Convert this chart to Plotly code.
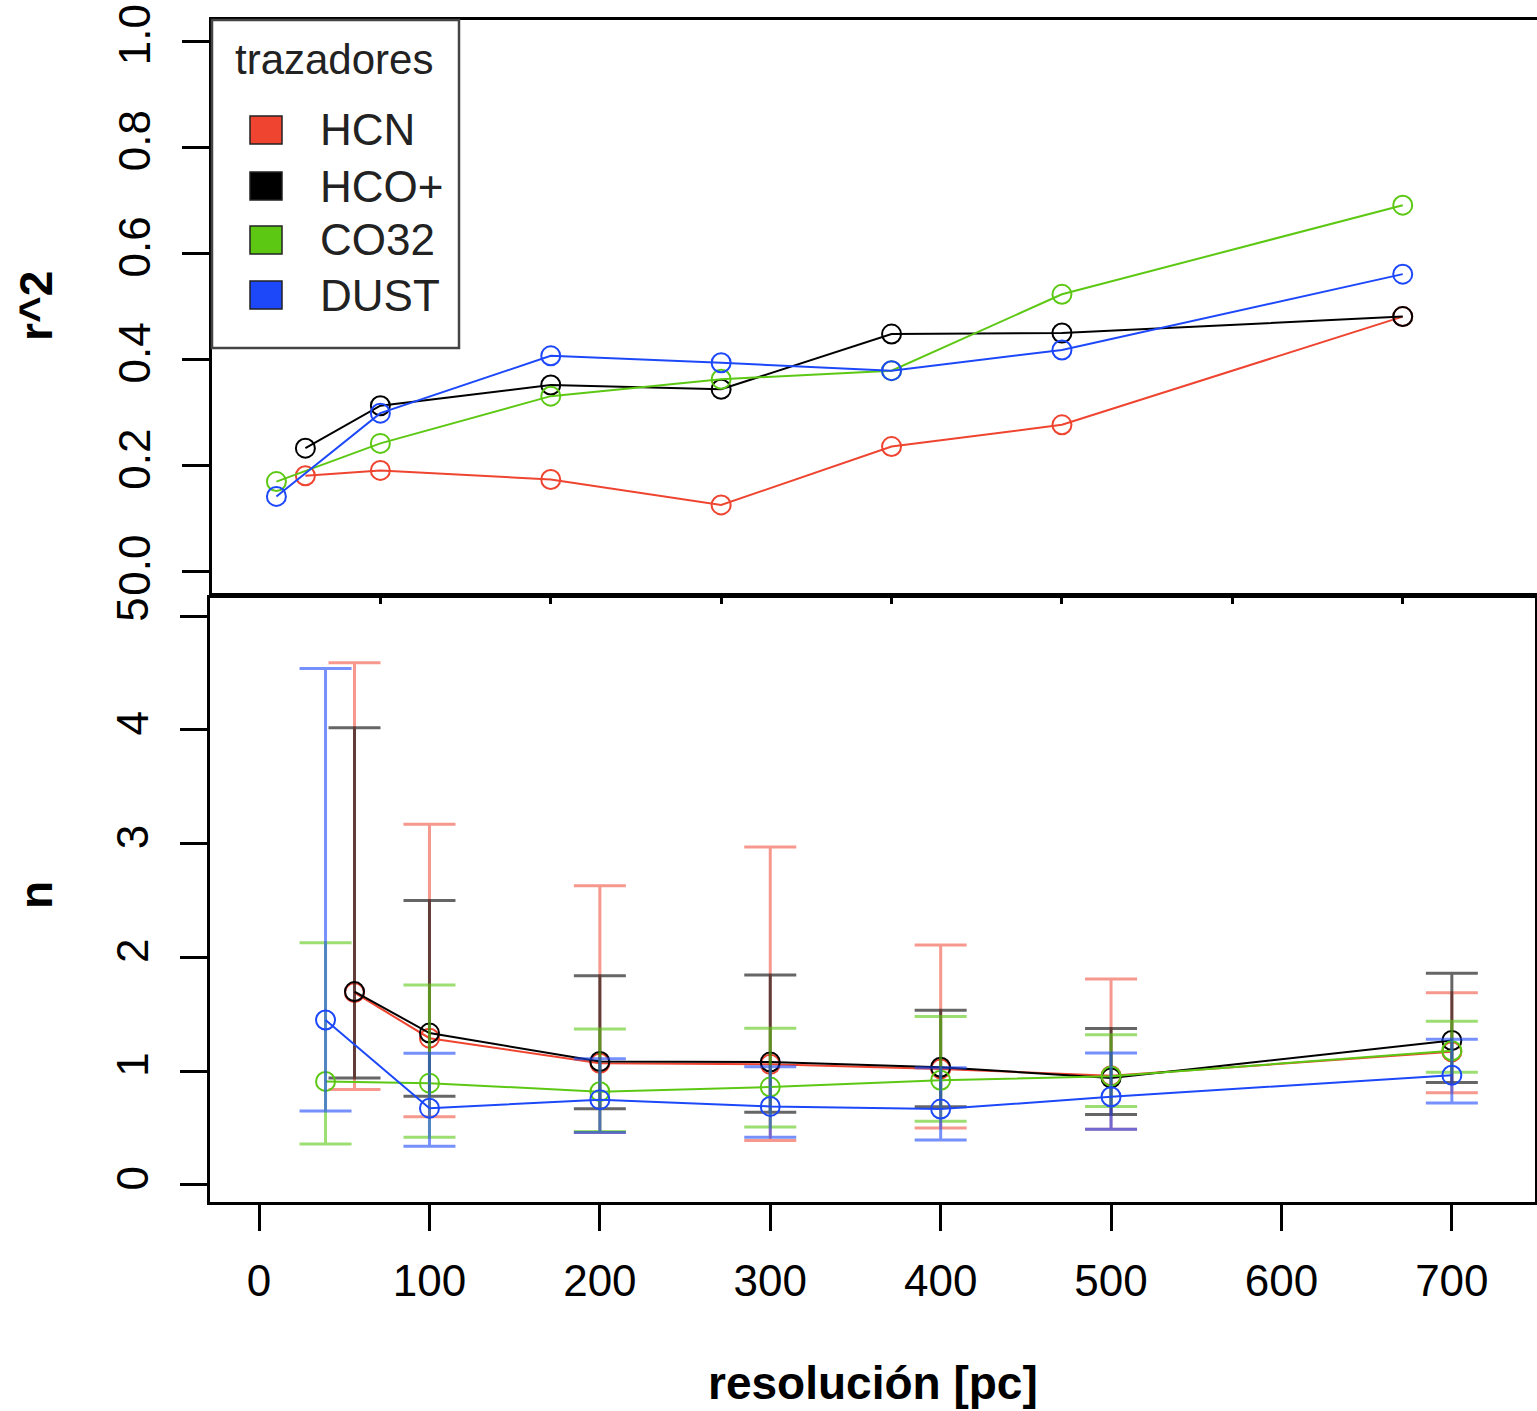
import plotly.graph_objects as go

# ---- data -------------------------------------------------------------
tracers = ["HCN", "HCO+", "CO32", "DUST"]
colors = {"HCN": "#EE4430", "HCO+": "#000000", "CO32": "#5CC814", "DUST": "#1C48FA"}
bar_colors = {"HCN": "rgba(238,68,48,0.55)", "HCO+": "rgba(0,0,0,0.6)",
              "CO32": "rgba(92,200,20,0.6)", "DUST": "rgba(28,72,250,0.6)"}

res_hcn = [56, 100, 200, 300, 400, 500, 700]
res_hco = [56, 100, 200, 300, 400, 500, 700]
res_co32 = [39, 100, 200, 300, 400, 500, 700]
res_dust = [39, 100, 200, 300, 400, 500, 700]

# coefficient of determination per resolution
r2_hcn = [0.181, 0.191, 0.174, 0.126, 0.236, 0.277, 0.481]
r2_hco = [0.233, 0.313, 0.352, 0.344, 0.448, 0.450, 0.481]
r2_co32 = [0.170, 0.242, 0.331, 0.363, 0.379, 0.523, 0.691]
r2_dust = [0.142, 0.299, 0.407, 0.394, 0.379, 0.418, 0.561]

# slope n with lower / upper limits
n_hcn = [1.69, 1.29, 1.07, 1.06, 1.02, 0.96, 1.17]
n_hcn_hi = [4.59, 3.17, 2.63, 2.97, 2.11, 1.81, 1.69]
n_hcn_lo = [0.84, 0.60, 0.46, 0.39, 0.50, 0.49, 0.81]

n_hco = [1.70, 1.335, 1.085, 1.08, 1.035, 0.94, 1.27]
n_hco_hi = [4.02, 2.50, 1.84, 1.845, 1.535, 1.375, 1.86]
n_hco_lo = [0.94, 0.78, 0.67, 0.64, 0.687, 0.62, 0.90]

n_co32 = [0.91, 0.895, 0.82, 0.86, 0.92, 0.956, 1.18]
n_co32_hi = [2.13, 1.757, 1.37, 1.377, 1.48, 1.32, 1.44]
n_co32_lo = [0.36, 0.42, 0.47, 0.51, 0.56, 0.69, 0.99]

n_dust = [1.45, 0.675, 0.75, 0.69, 0.667, 0.775, 0.965]
n_dust_hi = [4.54, 1.158, 1.11, 1.04, 1.03, 1.16, 1.28]
n_dust_lo = [0.65, 0.34, 0.46, 0.42, 0.395, 0.49, 0.72]

r2_ticks = [0.0, 0.2, 0.4, 0.6, 0.8, 1.0]
r2_ticktext = ["0.0", "0.2", "0.4", "0.6", "0.8", "1.0"]
n_ticks = [0, 1, 2, 3, 4, 5]
res_ticks = [0, 100, 200, 300, 400, 500, 600, 700]

series = {
    "HCN": (res_hcn, r2_hcn, n_hcn, n_hcn_hi, n_hcn_lo),
    "HCO+": (res_hco, r2_hco, n_hco, n_hco_hi, n_hco_lo),
    "CO32": (res_co32, r2_co32, n_co32, n_co32_hi, n_co32_lo),
    "DUST": (res_dust, r2_dust, n_dust, n_dust_hi, n_dust_lo),
}

# ---- page geometry ----------------------------------------------------
W, H = 1537, 1411
FONT = "Liberation Sans, Arial, Helvetica, sans-serif"


def px(x):
    return x / W


def py(y):
    return 1 - y / H


fig = go.Figure()

for name in tracers:
    res, r2, n, hi, lo = series[name]
    c = colors[name]
    fig.add_trace(go.Scatter(
        x=res, y=r2, mode="lines+markers", xaxis="x", yaxis="y",
        line=dict(color=c, width=2),
        marker=dict(symbol="circle-open", size=19, color=c, line=dict(width=2, color=c)),
        showlegend=False, name=name))

for name in tracers:
    res, r2, n, hi, lo = series[name]
    c = colors[name]
    fig.add_trace(go.Scatter(
        x=res, y=n, mode="lines+markers", xaxis="x2", yaxis="y2",
        line=dict(color=c, width=2),
        marker=dict(symbol="circle-open", size=19, color=c, line=dict(width=2, color=c)),
        error_y=dict(type="data", symmetric=False,
                     array=[h - v for h, v in zip(hi, n)],
                     arrayminus=[v - l for v, l in zip(n, lo)],
                     color=bar_colors[name], thickness=3, width=26),
        showlegend=False, name=name))

tick_font = dict(family=FONT, size=44, color="black")
axis_common = dict(showgrid=False, zeroline=False, showline=True, linecolor="black",
                   linewidth=3, ticks="outside", tickcolor="black", tickwidth=2.5,
                   tickfont=tick_font, automargin=False)

fig.update_layout(
    width=W, height=H, margin=dict(l=0, r=0, t=0, b=0),
    paper_bgcolor="white", plot_bgcolor="white", showlegend=False,
    xaxis=dict(domain=[px(212), 1.0], range=[1.2, 778.8], anchor="y",
               tickvals=res_ticks, ticklen=8, showticklabels=False, mirror=True,
               **axis_common),
    yaxis=dict(domain=[py(593), py(20)], range=[-0.04, 1.04], anchor="x",
               tickvals=r2_ticks, ticktext=r2_ticktext, ticklen=27, tickangle=-90,
               ticklabelstandoff=14, **axis_common),
    xaxis2=dict(domain=[px(210), px(1535)], range=[-28.8, 748.8], anchor="y2",
                tickvals=res_ticks, ticklen=26, mirror=True, ticklabelstandoff=12,
                **axis_common),
    yaxis2=dict(domain=[py(1202), py(598)], range=[-0.15, 5.16], anchor="x2",
                tickvals=n_ticks, ticklen=27, tickangle=-90, mirror=True,
                ticklabelstandoff=14, **axis_common),
)

title_font = dict(family=FONT, size=46, color="black")
fig.add_annotation(text="<b>r^2</b>", x=px(36), y=py(306), xref="paper", yref="paper",
                   textangle=-90, showarrow=False, font=title_font,
                   xanchor="center", yanchor="middle")
fig.add_annotation(text="<b>n</b>", x=px(36), y=py(895), xref="paper", yref="paper",
                   textangle=-90, showarrow=False, font=title_font,
                   xanchor="center", yanchor="middle")
fig.add_annotation(text="<b>resolución [pc]</b>", x=px(873), y=py(1383),
                   xref="paper", yref="paper", showarrow=False, font=title_font,
                   xanchor="center", yanchor="middle")

# legend box
fig.add_shape(type="rect", xref="paper", yref="paper",
              x0=px(212), x1=px(459), y0=py(348), y1=py(20),
              line=dict(color="#444444", width=2.5), fillcolor="white", layer="above")
fig.add_annotation(text="trazadores", x=px(233), y=py(60), xref="paper", yref="paper",
                   showarrow=False, xanchor="left", yanchor="middle",
                   font=dict(family=FONT, size=42, color="#222222"))
legend_rows = [130, 186, 240, 295]
for name, yc in zip(tracers, legend_rows):
    fig.add_shape(type="rect", xref="paper", yref="paper",
                  x0=px(250), x1=px(282), y0=py(yc + 14), y1=py(yc - 14),
                  line=dict(color="#222222", width=1.5), fillcolor=colors[name],
                  layer="above")
    fig.add_annotation(text=name, x=px(318), y=py(yc), xref="paper", yref="paper",
                       showarrow=False, xanchor="left", yanchor="middle",
                       font=dict(family=FONT, size=44, color="#222222"))

fig.write_html("out.html")
